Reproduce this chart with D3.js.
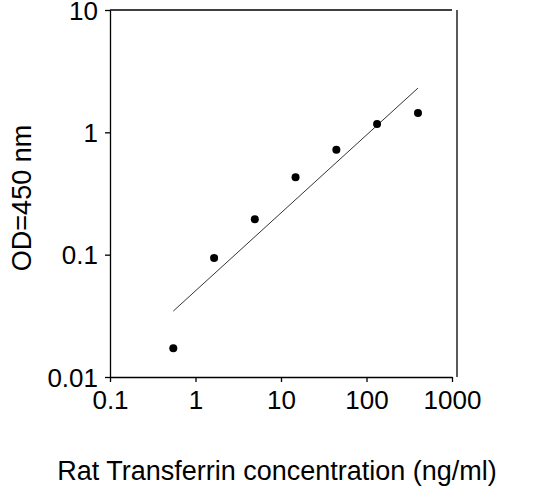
<!DOCTYPE html><html><head><meta charset="utf-8">
<script src="https://cdn.jsdelivr.net/npm/d3@7"></script>
<style>body{margin:0;background:#fff}text{font-family:"Liberation Sans",Arial,sans-serif;fill:#000}</style>
</head><body><svg id="c" width="547" height="494"></svg><script>
const concentrations=[0.55,1.65,4.94,14.8,44.4,133,400];
const odValues=[0.0172,0.094,0.195,0.43,0.72,1.17,1.44];
const fitX=[0.55,400];
const fitY=[0.0346,2.30];
const xTicks=[0.1,1,10,100,1000];
const yTicks=[0.01,0.1,1,10];
const svg=d3.select("#c");
const x=d3.scaleLog().domain([0.1,1000]).range([110,452]);
const y=d3.scaleLog().domain([0.01,10]).range([377,10]);
const fmt=d=>String(d);
const gx=svg.append("g").attr("transform","translate(0,377)").call(d3.axisBottom(x).tickValues(xTicks).tickFormat(fmt).tickSize(5).tickSizeOuter(0));
const gy=svg.append("g").attr("transform","translate(110,0)").call(d3.axisLeft(y).tickValues(yTicks).tickFormat(fmt).tickSize(5).tickSizeOuter(0));
[gx,gy].forEach(g=>{g.selectAll("path,line").attr("stroke","#000").attr("stroke-width",1.3);g.selectAll("text").style("font-size","26px").attr("fill","#000");});
gx.selectAll("text").attr("y",14).attr("dy","0.71em");
gy.selectAll("text").attr("x",-12).attr("dy","0.35em");
svg.append("line").attr("x1",110).attr("x2",452).attr("y1",10).attr("y2",10).attr("stroke","#000").attr("stroke-width",1.3);
svg.append("line").attr("x1",457).attr("x2",457).attr("y1",10).attr("y2",377).attr("stroke","#000").attr("stroke-width",1.3);
svg.append("line").attr("x1",x(fitX[0])).attr("y1",y(fitY[0])).attr("x2",x(fitX[1])).attr("y2",y(fitY[1])).attr("stroke","#000").attr("stroke-width",0.8);
svg.selectAll("circle").data(concentrations).enter().append("circle").attr("cx",d=>x(d)).attr("cy",(d,i)=>y(odValues[i])).attr("r",4).attr("fill","#000");
svg.append("text").attr("x",277).attr("y",480).attr("text-anchor","middle").style("font-size","27px").text("Rat Transferrin concentration (ng/ml)");
svg.append("text").attr("transform","translate(31,198) rotate(-90)").attr("text-anchor","middle").style("font-size","27px").text("OD=450 nm");
</script></body></html>
